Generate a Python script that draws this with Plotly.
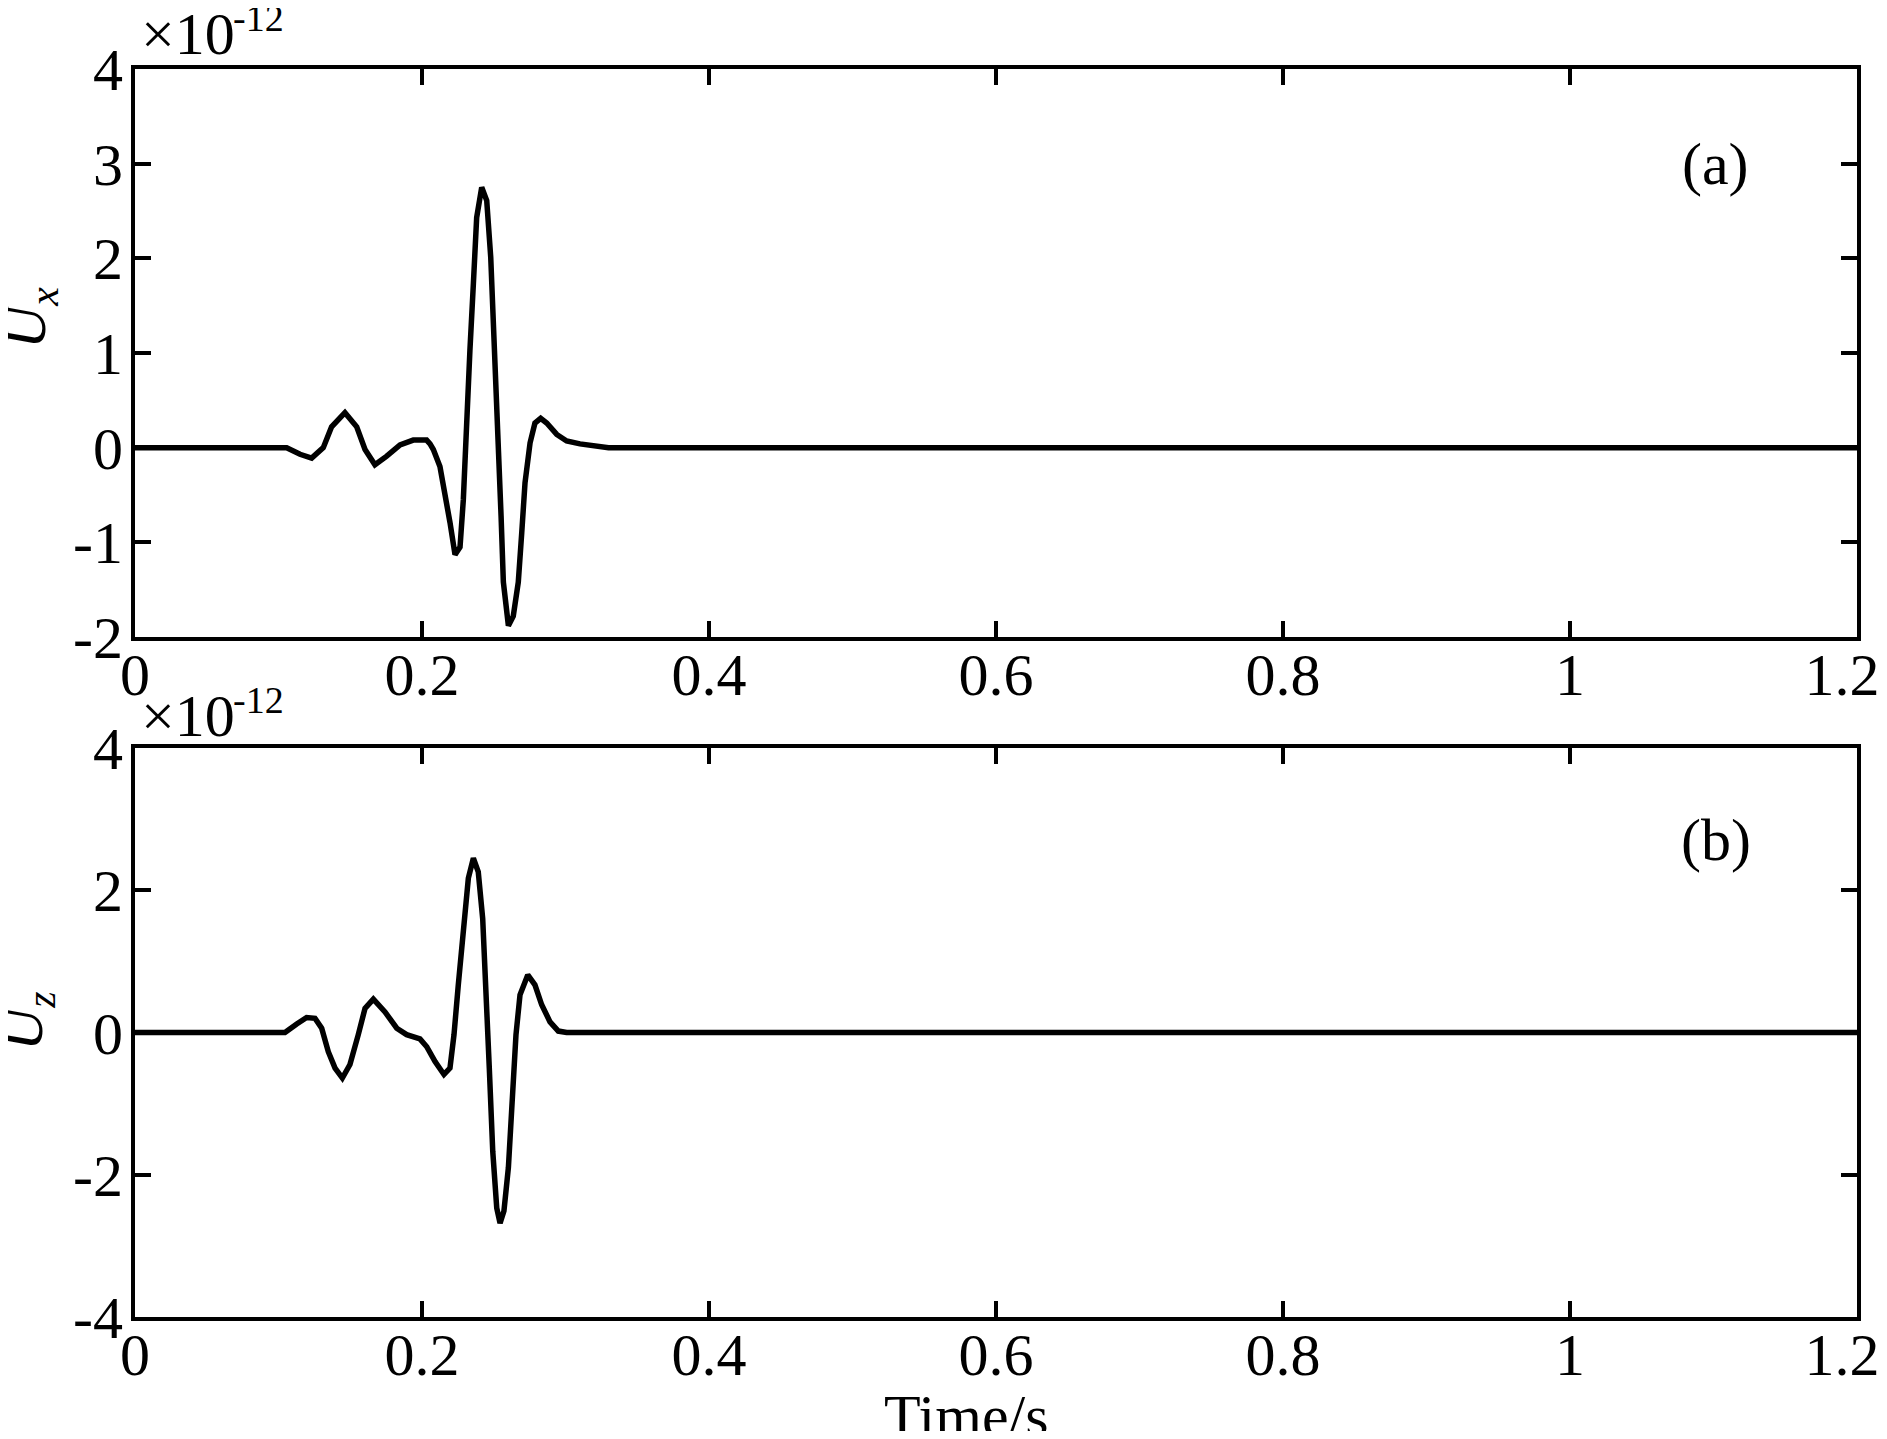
import plotly.graph_objects as go

# ---- data ----
t_ux = [0.0, 0.1057, 0.115, 0.1231, 0.1312, 0.137, 0.1463, 0.1545, 0.1603, 0.1672, 0.1754,
        0.1847, 0.1939, 0.2032, 0.2056, 0.2079, 0.2125, 0.216, 0.2195, 0.223, 0.2265, 0.2288,
        0.2311, 0.2334, 0.2358, 0.2381, 0.2416, 0.2451, 0.2479, 0.2497, 0.2516, 0.2537, 0.2551,
        0.2567, 0.2602, 0.2636, 0.2671, 0.2695, 0.2718, 0.2753, 0.2787, 0.2827, 0.2869, 0.2939,
        0.3008, 0.3101, 0.3217, 0.33, 1.2]
ux = [0.0, 0.0, -0.07, -0.11, 0.0, 0.22, 0.37, 0.22, -0.02, -0.18, -0.09,
      0.03, 0.08, 0.08, 0.04, -0.02, -0.2, -0.48, -0.79, -1.13, -1.05, -0.55,
      0.33, 1.03, 1.73, 2.43, 2.75, 2.61, 2.01, 1.38, 0.68, -0.02, -0.72,
      -1.42, -1.88, -1.78, -1.42, -0.9, -0.37, 0.05, 0.26, 0.31, 0.26, 0.14,
      0.07, 0.04, 0.01, 0.0, 0.0]

t_uz = [0.0, 0.1045, 0.1127, 0.1196, 0.1254, 0.1301, 0.1347, 0.1394, 0.1445, 0.1498, 0.1556,
        0.1603, 0.1661, 0.1742, 0.1824, 0.1893, 0.1986, 0.2033, 0.2091, 0.2153, 0.2195, 0.2223,
        0.2253, 0.2288, 0.2323, 0.2358, 0.2392, 0.2423, 0.2446, 0.2469, 0.2493, 0.2521, 0.2544,
        0.2571, 0.2602, 0.2625, 0.2655, 0.2683, 0.2737, 0.2787, 0.2834, 0.2892, 0.295, 0.3008, 1.2]
uz = [0.0, 0.0, 0.12, 0.21, 0.2, 0.06, -0.27, -0.5, -0.64, -0.45, -0.03,
      0.34, 0.47, 0.29, 0.06, -0.03, -0.09, -0.2, -0.41, -0.59, -0.5, -0.03,
      0.67, 1.46, 2.17, 2.45, 2.26, 1.6, 0.67, -0.5, -1.67, -2.47, -2.68,
      -2.51, -1.9, -0.97, -0.03, 0.53, 0.81, 0.67, 0.39, 0.15, 0.02, 0.0, 0.0]

x_ticks = [0, 0.2, 0.4, 0.6, 0.8, 1.0, 1.2]
x_ticktext = ["0", "0.2", "0.4", "0.6", "0.8", "1", "1.2\u2002"]
y1_ticks = [-2, -1, 0, 1, 2, 3, 4]
y1_ticktext = ["-2", "-1", "0", "1", "2", "3", "4"]
y2_ticks = [-4, -2, 0, 2, 4]
y2_ticktext = ["-4", "-2", "0", "2", "4"]
scale = 1e-12

# ---- layout geometry (page pixels; the page body adds an 8px margin all round) ----
OFF = 8
PAGE_W, PAGE_H = 1887, 1439
W, H = PAGE_W - 2 * OFF, PAGE_H - 2 * OFF
LEFT, RIGHT, TOP, BOTTOM = 135, 1857, 69, 1317   # plot box in page pixels
L, R = LEFT - OFF, W - (RIGHT - OFF)
T, B = TOP - OFF, H - (BOTTOM - OFF)
PW, PH = RIGHT - LEFT, BOTTOM - TOP


def xp(px):
    return (px - LEFT) / PW


def yp(py):
    return (BOTTOM - py) / PH


FONT = "Liberation Serif, Times New Roman, serif"
FS = 60

fig = go.Figure()
fig.add_trace(go.Scatter(x=t_ux, y=[v * scale for v in ux], mode="lines",
                         line=dict(color="black", width=5.5), xaxis="x", yaxis="y",
                         showlegend=False))
fig.add_trace(go.Scatter(x=t_uz, y=[v * scale for v in uz], mode="lines",
                         line=dict(color="black", width=5.5), xaxis="x2", yaxis="y2",
                         showlegend=False))

axis_common = dict(showline=True, linecolor="black", linewidth=4, mirror="ticks",
                   ticks="inside", ticklen=16, tickwidth=4, tickcolor="black",
                   showgrid=False, zeroline=False, automargin=False,
                   tickfont=dict(family=FONT, size=FS, color="black"))

top_dom = [yp(637), 1.0]
bot_dom = [0.0, yp(748)]

fig.update_layout(
    width=W, height=H,
    margin=dict(l=L, r=R, t=T, b=B, autoexpand=False),
    paper_bgcolor="white", plot_bgcolor="white",
    xaxis=dict(domain=[0, 1], anchor="y", range=[0, 1.2], tickvals=x_ticks,
               ticktext=x_ticktext, ticklabeloverflow="allow", ticklabelstandoff=-18,
               **axis_common),
    yaxis=dict(domain=top_dom, anchor="x", range=[-2 * scale, 4 * scale],
               tickvals=[v * scale for v in y1_ticks], ticktext=y1_ticktext,
               ticklabelstandoff=-4, **axis_common),
    xaxis2=dict(domain=[0, 1], anchor="y2", range=[0, 1.2], tickvals=x_ticks,
                ticktext=x_ticktext, ticklabeloverflow="allow", ticklabelstandoff=-18,
                **axis_common),
    yaxis2=dict(domain=bot_dom, anchor="x2", range=[-4 * scale, 4 * scale],
                tickvals=[v * scale for v in y2_ticks], ticktext=y2_ticktext,
                ticklabelstandoff=-4, **axis_common),
)

ann = []
def add_text(text, px, py, size=FS, xanchor="center", yanchor="middle", angle=0):
    ann.append(dict(text=text, x=xp(px), y=yp(py), xref="paper", yref="paper",
                    showarrow=False, xanchor=xanchor, yanchor=yanchor, textangle=angle,
                    font=dict(family=FONT, size=size, color="black")))

# exponent labels
for off in (0, 682):
    add_text("×10", 139, 34 + off, xanchor="left")
    add_text("-12", 231, 18 + off, size=38, xanchor="left")

add_text("(a)", 1715, 164)
add_text("(b)", 1716, 840)
add_text("<i>U</i><sub><i>x</i></sub>", 30, 318, angle=-90)
add_text("<i>U</i><sub><i>z</i></sub>", 26, 1021, angle=-90)
add_text("Time/s", 966, 1416)

fig.update_layout(annotations=ann)
fig.write_html("out.html")
